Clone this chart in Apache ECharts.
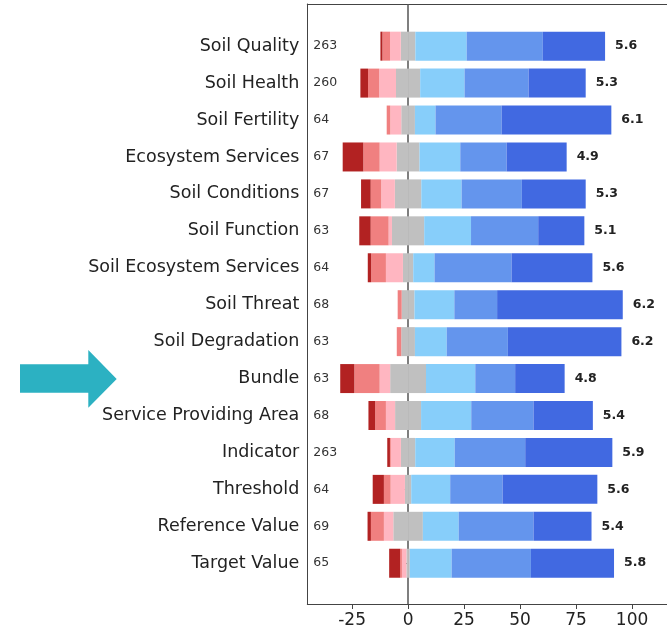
<!DOCTYPE html>
<html>
<head>
<meta charset="utf-8">
<script src="https://cdn.jsdelivr.net/npm/echarts@6/dist/echarts.min.js"></script>
<style>
  html, body { margin: 0; padding: 0; background: #ffffff; }
  #chart { width: 667px; height: 632px; }
</style>
</head>
<body>
<div id="chart"></div>
<script>
// Terms rated on a 7-point agreement scale (percent of responses per option)
const categories = [
  'Soil Quality', 'Soil Health', 'Soil Fertility', 'Ecosystem Services',
  'Soil Conditions', 'Soil Function', 'Soil Ecosystem Services', 'Soil Threat',
  'Soil Degradation', 'Bundle', 'Service Providing Area', 'Indicator',
  'Threshold', 'Reference Value', 'Target Value'
];
const nResponses = [263, 260, 64, 67, 67, 63, 64, 68, 63, 63, 68, 263, 64, 69, 65];
const meanScores = [5.6, 5.3, 6.1, 4.9, 5.3, 5.1, 5.6, 6.2, 6.2, 4.8, 5.4, 5.9, 5.6, 5.4, 5.8];

const stronglyDisagree = [0.9, 3.4, 0.0, 9.2, 4.3, 5.1, 1.5, 0.0, 0.0, 6.3, 3.0, 1.2, 5.0, 1.5, 4.9];
const disagree         = [3.4, 5.0, 1.6, 7.3, 4.7, 8.0, 6.6, 1.8, 2.0, 11.3, 4.8, 0.4, 3.0, 5.8, 0.8];
const somewhatDisagree = [4.8, 7.5, 4.9, 7.6, 6.1, 1.5, 7.6, 0.0, 0.0, 4.7, 4.1, 4.5, 6.4, 4.2, 2.0];
const neutral          = [6.5, 10.8, 6.1, 10.2, 11.8, 14.4, 4.6, 5.7, 6.1, 16.0, 11.6, 6.4, 2.8, 13.2, 1.5];
const somewhatAgree    = [22.9, 19.8, 9.2, 18.2, 18.0, 20.9, 9.5, 17.8, 14.2, 22.0, 22.4, 17.6, 17.4, 16.0, 18.7];
const agree            = [34.0, 28.6, 29.5, 20.7, 26.9, 30.0, 34.4, 19.1, 27.3, 17.8, 27.8, 31.5, 23.4, 33.4, 35.4];
const stronglyAgree    = [27.8, 25.5, 49.0, 26.8, 28.5, 20.6, 36.1, 56.1, 50.7, 22.1, 26.5, 38.9, 42.3, 25.9, 37.1];

const xTickValues = [-25, 0, 25, 50, 75, 100];

const FONT = 'DejaVu Sans';
// the plot runs past the right edge of the page, so the visible range ends mid-way
const xMin = -45, xMax = 115.6;
const PLOT_LEFT = 307.3;

const chart = echarts.init(document.getElementById('chart'), null, { renderer: 'canvas' });

function seg(name, values, color, extra) {
  return Object.assign({
    name: name,
    type: 'bar',
    stack: 'likert',
    xAxisIndex: 0,
    yAxisIndex: 0,
    barWidth: 29,
    z: 3,
    silent: true,
    itemStyle: { color: color },
    data: values
  }, extra || {});
}

const neg = v => v.map(x => -x);
const half = v => v.map(x => x / 2);

const frameLine = { show: true, onZero: false, lineStyle: { color: '#444', width: 1 } };

const option = {
  animation: false,
  backgroundColor: '#ffffff',
  textStyle: { fontFamily: FONT },
  grid: [
    // bars
    { left: PLOT_LEFT, right: 0, top: 27.7, bottom: 50.3 },
    // axes frame
    { left: PLOT_LEFT, right: 0, top: 4, bottom: 28 }
  ],
  xAxis: [
    { type: 'value', gridIndex: 0, min: xMin, max: xMax, show: false },
    { type: 'value', gridIndex: 1, min: xMin, max: xMax, position: 'bottom',
      axisLine: frameLine,
      splitLine: { show: false },
      axisTick: { show: true, customValues: xTickValues, length: 5, lineStyle: { color: '#444' } },
      axisLabel: { customValues: xTickValues, fontSize: 17, color: '#222', margin: 8, fontFamily: FONT }
    },
    { type: 'value', gridIndex: 1, min: xMin, max: xMax, position: 'top',
      axisLine: frameLine, axisTick: { show: false }, axisLabel: { show: false },
      splitLine: { show: false }
    }
  ],
  yAxis: [
    { type: 'category', gridIndex: 0, data: categories, inverse: true, position: 'left',
      axisLine: { show: false },
      axisTick: { show: true, alignWithLabel: true, length: 5, lineStyle: { color: '#444' } },
      axisLabel: { fontSize: 17.5, color: '#222', margin: 8, fontFamily: FONT }
    },
    { type: 'category', gridIndex: 0, data: categories, inverse: true, position: 'left',
      axisLine: { show: false },
      axisTick: { show: false },
      axisLabel: { inside: true, margin: 6, fontSize: 12.5, color: '#333', fontFamily: FONT,
        formatter: (v, i) => String(nResponses[i]) }
    },
    { type: 'value', gridIndex: 1, min: 0, max: 1, position: 'left',
      axisLine: frameLine, axisTick: { show: false }, axisLabel: { show: false },
      splitLine: { show: false }
    }
  ],
  series: [
    // zero reference line across the whole frame, kept behind the bars
    { type: 'line', xAxisIndex: 1, yAxisIndex: 2, data: [], z: 1, silent: true,
      markLine: { silent: true, z: 1, symbol: 'none', label: { show: false },
        lineStyle: { color: '#555', width: 1.5, type: 'solid' },
        data: [{ xAxis: 0 }] } },
    // disagreeing side, stacked outward from zero
    seg('Neutral (left half)', neg(half(neutral)), '#c0c0c0'),
    seg('Somewhat disagree', neg(somewhatDisagree), '#ffb6c1'),
    seg('Disagree', neg(disagree), '#f08080'),
    seg('Strongly disagree', neg(stronglyDisagree), '#b22222'),
    // agreeing side
    seg('Neutral (right half)', half(neutral), '#c0c0c0'),
    seg('Somewhat agree', somewhatAgree, '#87cefa'),
    seg('Agree', agree, '#6495ed'),
    seg('Strongly agree', stronglyAgree, '#4169e1', {
      label: {
        show: true, position: 'right', distance: 10,
        fontSize: 12.5, fontWeight: 'bold', color: '#222', fontFamily: FONT,
        formatter: p => meanScores[p.dataIndex].toFixed(1)
      }
    })
  ],
  graphic: [
    { type: 'polygon', silent: true,
      shape: { points: [[20, 364.3], [88.3, 364.3], [88.3, 350], [116.7, 379],
                        [88.3, 407.7], [88.3, 392.7], [20, 392.7]] },
      style: { fill: '#2cb1c2' } }
  ]
};

chart.setOption(option);
</script>
</body>
</html>
